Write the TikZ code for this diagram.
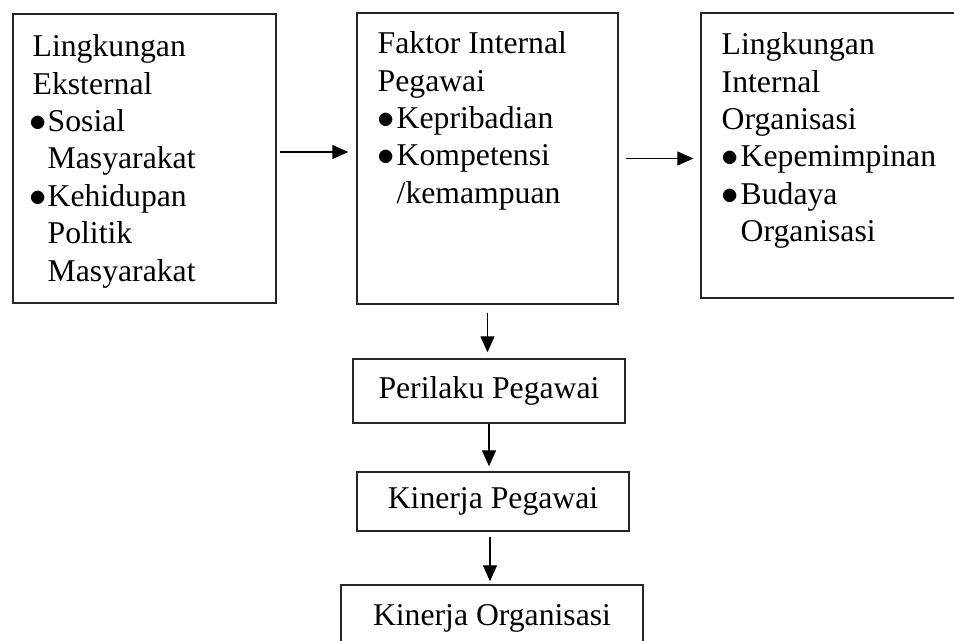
\documentclass[tikz,border=0pt]{standalone}
\usepackage{fontspec}
\setmainfont{Liberation Serif}
\usetikzlibrary{arrows.meta}
\newcommand{\bul}{\makebox[9.5pt][l]{$\bullet$}}
\newcommand{\ind}{\hspace*{9.5pt}}
\newcommand{\bula}{\makebox[7.5pt][l]{\hspace*{-1.5pt}$\bullet$}}
\newcommand{\inda}{\hspace*{7.5pt}}
\begin{document}
\begin{tikzpicture}[x=0.5pt,y=-0.5pt,
  box/.style={draw=black!85, line width=0.7pt, inner sep=0pt,
    font=\fontsize{15.85pt}{18.7pt}\selectfont, text height=11pt, text depth=3.5pt},
  txt/.style={inner sep=0pt, anchor=north west, align=left,
    font=\fontsize{15.85pt}{18.7pt}\selectfont},
  arr/.style={-{Triangle[length=8pt,width=7pt]}, line width=0.7pt}]
\useasboundingbox (0,0) rectangle (954,641);
\clip (0,0) rectangle (954,641);

\node[box, minimum width=131.5pt, minimum height=144.5pt] (b1) at (144.5,158.5) {};
\node[box, minimum width=130.5pt, minimum height=145.5pt] (b2) at (487.5,158.5) {};
\node[box, minimum width=134.5pt, minimum height=142.5pt] (b3) at (835.5,155.5) {};
\node[box, minimum width=136pt, minimum height=32pt] (pp) at (489,391) {Perilaku Pegawai};
\node[box, minimum width=136pt, minimum height=29.5pt] (kp) at (493,501.5) {Kinerja Pegawai};
\node[box, minimum width=151pt, minimum height=33pt] (ko) at (492,618) {Kinerja Organisasi};

\node[txt] (t1) at ([xshift=10pt,yshift=-10.5pt]b1.north west) {Lingkungan\\Eksternal\\\bula Sosial\\\inda Masyarakat\\\bula Kehidupan\\\inda Politik\\\inda Masyarakat};
\node[txt] (t2) at ([xshift=10.5pt,yshift=-9.5pt]b2.north west) {Faktor Internal\\Pegawai\\\bul Kepribadian\\\bul Kompetensi\\\ind /kemampuan};
\node[txt] (t3) at ([xshift=10.5pt,yshift=-10pt]b3.north west) {Lingkungan\\Internal\\Organisasi\\\bul Kepemimpinan\\\bul Budaya\\\ind Organisasi};

\draw[arr, shorten <=1.5pt, shorten >=4pt] ([yshift=3.25pt]b1.east) -- ([yshift=3.25pt]b2.west);
\draw[arr, shorten <=3.5pt, shorten >=3.5pt] (b2.east) -- (b2.east -| b3.west);
\draw[arr, shorten <=4pt, shorten >=3pt] (b2.south) -- (b2.south |- pp.north);
\draw[arr, shorten >=2.5pt] (pp.south) -- (pp.south |- kp.north);
\draw[arr, shorten <=2.5pt, shorten >=1.5pt] ([xshift=-1.5pt]kp.south) -- ([xshift=-1.5pt]kp.south |- ko.north);
\end{tikzpicture}
\end{document}
